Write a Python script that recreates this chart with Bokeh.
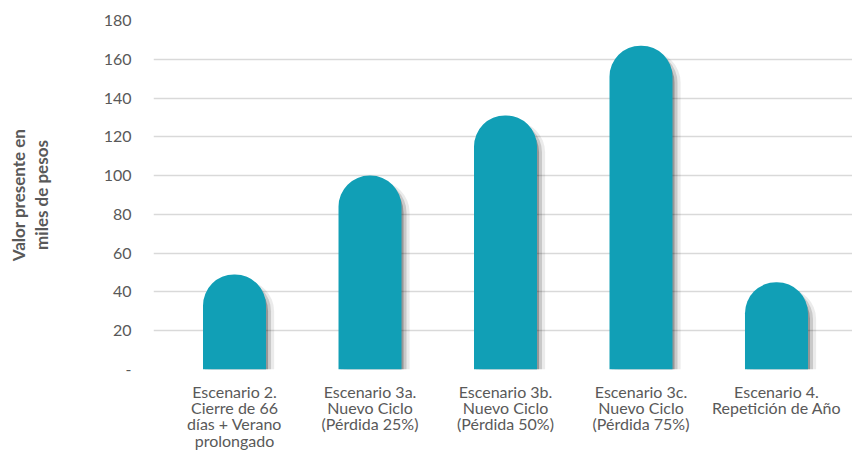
from bokeh.plotting import figure
from bokeh.models import ColumnDataSource, FixedTicker, Range1d
from bokeh.core.properties import value
from bokeh.layouts import column
from bokeh.embed import file_html
from bokeh.resources import INLINE

categories = [
    "Escenario 2.\nCierre de 66\ndías + Verano\nprolongado",
    "Escenario 3a.\nNuevo Ciclo\n(Pérdida 25%)",
    "Escenario 3b.\nNuevo Ciclo\n(Pérdida 50%)",
    "Escenario 3c.\nNuevo Ciclo\n(Pérdida 75%)",
    "Escenario 4.\nRepetición de Año",
]
values = [49, 100, 131, 167, 45]
y_ticks = [0, 20, 40, 60, 80, 100, 120, 140, 160, 180]
y_tick_labels = ["-", "20", "40", "60", "80", "100", "120", "140", "160", "180"]

idx = list(range(len(categories)))
src = ColumnDataSource(dict(
    x=idx,
    top=values,
    base=[1] * len(idx),
    label=categories,
    xs1=[i + 0.06 for i in idx],
    xs2=[i + 0.037 for i in idx],
    xs3=[i + 0.015 for i in idx],
    ts=[v - 3 for v in values],
))

TEXT = "#595959"
FONT = "Lato"
W_FIG = 852
xr = Range1d(-0.598, 4.561)

p = figure(width=W_FIG, height=379, output_backend="svg", toolbar_location=None,
           x_range=xr, y_range=Range1d(0, 180), x_axis_location=None,
           min_border_left=153, min_border_right=0, min_border_top=20,
           min_border_bottom=10)
p.outline_line_color = None
p.background_fill_color = "white"
p.border_fill_color = "white"

R = 31
W = 0.465
# soft shadows
p.vbar(x="xs1", top="ts", bottom=0, width=W, source=src, fill_color="black",
       fill_alpha=0.08, line_color=None, border_radius=(R, R, 0, 0))
p.vbar(x="xs2", top="ts", bottom=0, width=W, source=src, fill_color="black",
       fill_alpha=0.14, line_color=None, border_radius=(R, R, 0, 0))
p.vbar(x="xs3", top="ts", bottom=0, width=W, source=src, fill_color="black",
       fill_alpha=0.25, line_color=None, border_radius=(R, R, 0, 0))
# bars
p.vbar(x="x", top="top", bottom=0, width=W, source=src, fill_color="#119fb6",
       line_color=None, border_radius=(R, R, 0, 0))

p.xgrid.grid_line_color = None
p.yaxis.ticker = FixedTicker(ticks=y_ticks)
p.yaxis.major_label_overrides = {t: l for t, l in zip(y_ticks, y_tick_labels)}
p.yaxis.axis_line_color = None
p.yaxis.major_tick_line_color = None
p.yaxis.minor_tick_line_color = None
p.yaxis.major_tick_out = 0
p.yaxis.major_tick_in = 0
p.yaxis.major_label_text_font = FONT
p.yaxis.major_label_text_font_size = "16px"
p.yaxis.major_label_text_color = TEXT
p.yaxis.major_label_standoff = 22
p.yaxis.axis_label = "Valor presente en\nmiles de pesos"
p.yaxis.axis_label_text_font = FONT
p.yaxis.axis_label_text_font_size = "17px"
p.yaxis.axis_label_text_font_style = "bold"
p.yaxis.axis_label_text_color = TEXT
p.yaxis.axis_label_text_line_height = 1.1
p.yaxis.axis_label_standoff = 49
p.ygrid.grid_line_color = "#d9d9d9"
p.ygrid.grid_line_width = 1.3

# category labels strip below the bars, sharing the x scale
q = figure(width=W_FIG, height=76, output_backend="svg", toolbar_location=None,
           x_range=xr, y_range=Range1d(0, 1), x_axis_location=None,
           y_axis_location=None, min_border_left=153, min_border_right=0,
           min_border_top=0, min_border_bottom=0)
q.outline_line_color = None
q.grid.grid_line_color = None
q.background_fill_color = "white"
q.border_fill_color = "white"
q.text(x="x", y="base", text="label", source=src, y_offset=2,
       text_align="center", text_baseline="top", text_font=value(FONT),
       text_font_size="16px", text_color=TEXT, text_line_height=0.86)

layout = column(p, q, spacing=0)
open("out.html", "w").write(file_html(layout, INLINE))
